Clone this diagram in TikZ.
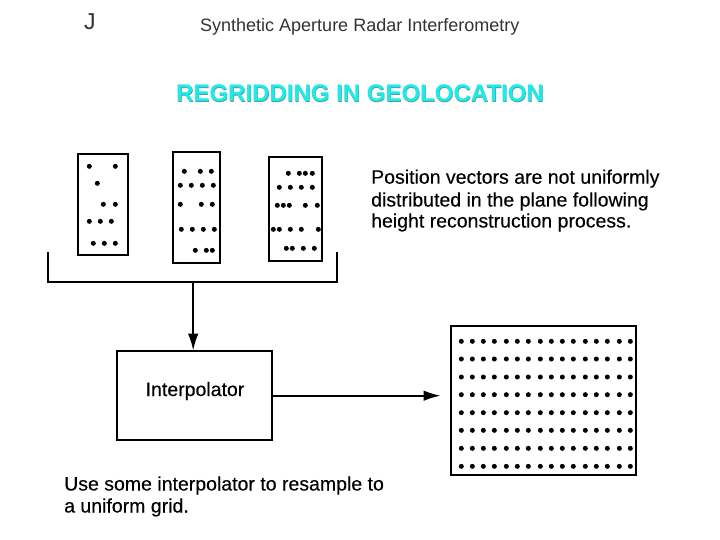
\documentclass[tikz,border=0pt]{standalone}
\usepackage{fontspec}
\setmainfont{Liberation Sans}
\newfontfamily\bodyfont[FakeBold=0.25]{Liberation Sans}
\usetikzlibrary{arrows.meta}
\definecolor{headcyan}{HTML}{1CEBEB}
\definecolor{headedge}{HTML}{5A9A9A}
\definecolor{toptext}{HTML}{333333}
\tikzset{
  panel/.style={draw=black,line width=1.8pt,fill=white,inner sep=0pt,outer sep=0pt},
  dot/.style={fill=black,draw=none},
  wire/.style={draw=black,line width=2pt},
  arrow/.style={wire,-{Latex[length=17pt,width=10.5pt]}},
  top/.style={anchor=base west,inner sep=0pt,text=toptext,font=\fontsize{18}{18}\selectfont},
  jlabel/.style={anchor=base west,inner sep=0pt,text=toptext,font=\fontsize{23}{23}\selectfont},
  body/.style={anchor=base west,inner sep=0pt,text=black,font=\bodyfont\fontsize{19.5}{19.5}\selectfont},
  heading/.style={anchor=base west,inner sep=0pt,font=\bfseries\fontsize{24}{24}\selectfont},
}
\newcommand{\dotsin}[3]{\foreach \zx/\zy in {#3} \fill[dot] ({#1+\zx/3},{#2+\zy/3}) circle (2.5pt);}
\begin{document}
\begin{tikzpicture}[x=1pt,y=-1pt]
\useasboundingbox (0,0) rectangle (720,540);
\fill[white] (0,0) rectangle (720,540);
\node[jlabel] (j) at (84,30) {J};
\node[top] (t) at (200,32) {Synthetic Aperture Radar Interferometry};
\node[heading,text=headedge] (hs) at (176.6,102.2) {REGRIDDING IN GEOLOCATION};
\node[heading,text=headcyan] (h) at (176,101.6) {REGRIDDING IN GEOLOCATION};

\node[panel,minimum width=50.6pt,minimum height=101.6pt] (b1) at (103,204.5) {};
\node[panel,minimum width=47.3pt,minimum height=111pt] (b2) at (196.7,207.5) {};
\node[panel,minimum width=53.3pt,minimum height=104.3pt] (b3) at (295.7,208.8) {};
\dotsin{60}{140}{88/79,166/79,112/130,130/193,166/193,88/244,121/244,154/244,100/310,133/310,166/310}
\dotsin{60}{140}{373/94,421/94,454/94,361/136,394/136,427/136,460/136,361/193,424/193,457/193,364/268,397/268,430/268,463/268,406/331,439/331,457/331}
\dotsin{60}{140}{685/100,718/100,736/100,757/100,658/142,691/142,724/142,757/142,652/196,670/196,688/196,736/196,772/196,640/268,658/268,691/268,724/268,775/268,679/325,697/325,730/325,763/325}

\coordinate (bl) at (48,252);
\coordinate (br) at (336.7,252);
\coordinate (bj) at (193.2,281.7);
\draw[wire] (bl) |- (bj) -| (br);

\node[panel,minimum width=155.6pt,minimum height=89pt] (ip) at (194.5,395.2) {};
\node[body,anchor=center] (ipl) at (195,391) {Interpolator};
\draw[arrow] (bj) -- (bj |- ip.north);

\node[panel,minimum width=185.6pt,minimum height=149.3pt] (grid) at (543.5,400.3) {};
\foreach \gy in {94,147,201,254,308,361,415,469}
  \foreach \gx in {94,127,160,193,229,262,295,331,364,397,430,466,499,532,568,601}
    \fill[dot] ({430+\gx/3},{310+\gy/3}) circle (2.5pt);
\coordinate (ae) at (440.7,395.7);
\draw[arrow] (ip.east |- ae) -- (ae);

\node[body] (p1) at (371,183.7) {Position vectors are not uniformly};
\node[body] (p2) at (371,206.5) {distributed in the plane following};
\node[body] (p3) at (371,227.5) {height reconstruction process.};
\node[body] (u1) at (64,490.5) {Use some interpolator to resample to};
\node[body] (u2) at (64,512.5) {a uniform grid.};
\end{tikzpicture}
\end{document}
